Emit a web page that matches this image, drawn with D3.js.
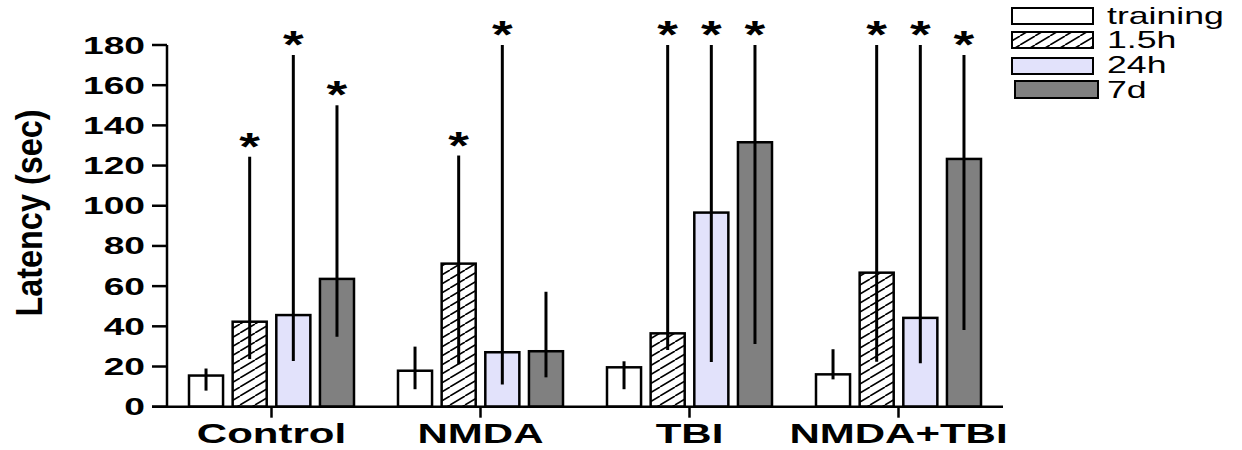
<!DOCTYPE html>
<html>
<head>
<meta charset="utf-8">
<script src="https://cdn.jsdelivr.net/npm/d3@7"></script>
<style>
  html, body { margin: 0; padding: 0; background: #fff; }
  svg { display: block; font-family: "Liberation Sans", Arial, sans-serif; }
</style>
</head>
<body>
<svg id="chart" width="1242" height="450"></svg>
<script>
// ---- data ----
const groups = ['Control', 'NMDA', 'TBI', 'NMDA+TBI'];
const series = ['training', '1.5h', '24h', '7d'];

// mean latency per series, one value per group
const meanTraining = [15.5, 17.9, 19.6, 16.1];
const mean1_5h     = [42.3, 71.2, 36.5, 66.7];
const mean24h      = [45.6, 27.1, 96.6, 44.2];
const mean7d       = [63.6, 27.6, 131.6, 123.3];

// error bar ends (upper / lower)
const hiTraining = [19, 29.9, 22.6, 28.6];
const hi1_5h     = [124.4, 125, 180, 180];
const hi24h      = [175, 180, 180, 180];
const hi7d       = [150, 57.2, 180, 175];

const loTraining = [8, 8.7, 8.7, 13.6];
const lo1_5h     = [23.7, 21.1, 28.2, 22.4];
const lo24h      = [22.7, 11.1, 22.2, 21.6];
const lo7d       = [34.8, 14.6, 31.2, 38.2];

// significance marks (*)
const sigTraining = [0, 0, 0, 0];
const sig1_5h     = [1, 1, 1, 1];
const sig24h      = [1, 1, 1, 1];
const sig7d       = [1, 0, 1, 1];

const yTicks = [0, 20, 40, 60, 80, 100, 120, 140, 160, 180];

const means = [meanTraining, mean1_5h, mean24h, mean7d];
const highs = [hiTraining, hi1_5h, hi24h, hi7d];
const lows  = [loTraining, lo1_5h, lo24h, lo7d];
const sigs  = [sigTraining, sig1_5h, sig24h, sig7d];

// flatten into records for d3
const rows = [];
groups.forEach((g, gi) => {
    series.forEach((s, si) => {
        rows.push({ group: g, series: s, value: means[si][gi],
                    hi: highs[si][gi], lo: lows[si][gi], sig: sigs[si][gi] });
    });
});

// ---- layout ----
const svg = d3.select('#chart');
const axisX = 167, axisRight = 1003;
const y = d3.scaleLinear().domain([0, 180]).range([406.7, 45]);
const x0 = d3.scaleBand().domain(groups).range([axisX, axisRight]).padding(0);
const x1 = d3.scaleBand().domain(series).range([22, 187]).paddingInner(0.22);

const STRETCH = 1.5; // the source figure is horizontally stretched
const fills = { 'training': '#ffffff', '1.5h': 'url(#hatch)', '24h': '#e2e2fb', '7d': '#808080' };

// hatch pattern
const defs = svg.append('defs');
const pat = defs.append('pattern')
    .attr('id', 'hatch')
    .attr('patternUnits', 'userSpaceOnUse')
    .attr('width', 15).attr('height', 9);
pat.append('rect').attr('width', 15).attr('height', 9).attr('fill', '#fff');
pat.append('path')
    .attr('d', 'M-15,9 L0,0 M0,9 L15,0 M15,9 L30,0')
    .attr('stroke', '#000').attr('stroke-width', 1.6);

// stretched text helper
function stext(parent, x, yy, str, opts) {
    const g = parent.append('g')
        .attr('transform', `translate(${x},${yy}) scale(${opts.sx || STRETCH},1)`);
    return g.append('text')
        .attr('text-anchor', opts.anchor || 'start')
        .attr('font-size', opts.size)
        .attr('font-weight', opts.weight || 'normal')
        .attr('fill', '#000')
        .text(str);
}

// bars
const barG = svg.append('g');
barG.selectAll('rect')
    .data(rows)
    .join('rect')
    .attr('x', d => x0(d.group) + x1(d.series))
    .attr('y', d => y(d.value))
    .attr('width', x1.bandwidth())
    .attr('height', d => y(0) - y(d.value))
    .attr('fill', d => fills[d.series])
    .attr('stroke', '#000')
    .attr('stroke-width', 2.5);

// error bars
const cx = d => x0(d.group) + x1(d.series) + x1.bandwidth() / 2;
barG.selectAll('line.err')
    .data(rows)
    .join('line')
    .attr('class', 'err')
    .attr('x1', cx).attr('x2', cx)
    .attr('y1', d => y(d.lo)).attr('y2', d => y(d.hi))
    .attr('stroke', '#000')
    .attr('stroke-width', 3);

// asterisks
rows.filter(d => d.sig).forEach(d => {
    stext(svg, cx(d), y(d.hi) + 3, '*', { size: 38, weight: 'bold', anchor: 'middle', sx: 1.4 });
});

// y axis
const axG = svg.append('g');
axG.append('line')
    .attr('x1', axisX).attr('x2', axisX)
    .attr('y1', y(180)).attr('y2', y(0))
    .attr('stroke', '#000').attr('stroke-width', 2.5);
axG.selectAll('line.tick')
    .data(yTicks)
    .join('line')
    .attr('class', 'tick')
    .attr('x1', axisX - 15).attr('x2', axisX)
    .attr('y1', d => y(d)).attr('y2', d => y(d))
    .attr('stroke', '#000').attr('stroke-width', 2.5);
yTicks.forEach(t => {
    stext(axG, 145, y(t) + 8.5, String(t), { size: 24, weight: 'bold', anchor: 'end', sx: 1.55 });
});

// x axis
axG.append('line')
    .attr('x1', axisX - 15).attr('x2', axisRight)
    .attr('y1', y(0)).attr('y2', y(0))
    .attr('stroke', '#000').attr('stroke-width', 2.5);
axG.selectAll('line.xtick')
    .data(groups)
    .join('line')
    .attr('class', 'xtick')
    .attr('x1', d => x0(d) + x0.bandwidth() / 2)
    .attr('x2', d => x0(d) + x0.bandwidth() / 2)
    .attr('y1', y(0)).attr('y2', y(0) + 11)
    .attr('stroke', '#000').attr('stroke-width', 2.5);
groups.forEach(g => {
    stext(axG, x0(g) + x0.bandwidth() / 2, 443, g, { size: 28, weight: 'bold', anchor: 'middle', sx: 1.5 });
});

// y axis title
svg.append('g')
    .attr('transform', 'translate(42,213) rotate(-90) scale(0.9,1.05)')
    .append('text')
    .attr('text-anchor', 'middle')
    .attr('font-size', 36)
    .attr('font-weight', 'bold')
    .text('Latency (sec)');

// legend
const legend = [
    { s: 'training', bx: 1012, by: 8,  bw: 81, bh: 16, ty: 24 },
    { s: '1.5h',     bx: 1012, by: 32, bw: 81, bh: 16, ty: 48 },
    { s: '24h',      bx: 1012, by: 58, bw: 81, bh: 16, ty: 73 },
    { s: '7d',       bx: 1015, by: 81, bw: 83, bh: 17, ty: 98 }
];
const lg = svg.append('g');
legend.forEach(l => {
    lg.append('rect')
        .attr('x', l.bx).attr('y', l.by)
        .attr('width', l.bw).attr('height', l.bh)
        .attr('fill', fills[l.s])
        .attr('stroke', '#000').attr('stroke-width', 2);
    stext(lg, 1107, l.ty, l.s, { size: 23, sx: 1.55 });
});
</script>
</body>
</html>
